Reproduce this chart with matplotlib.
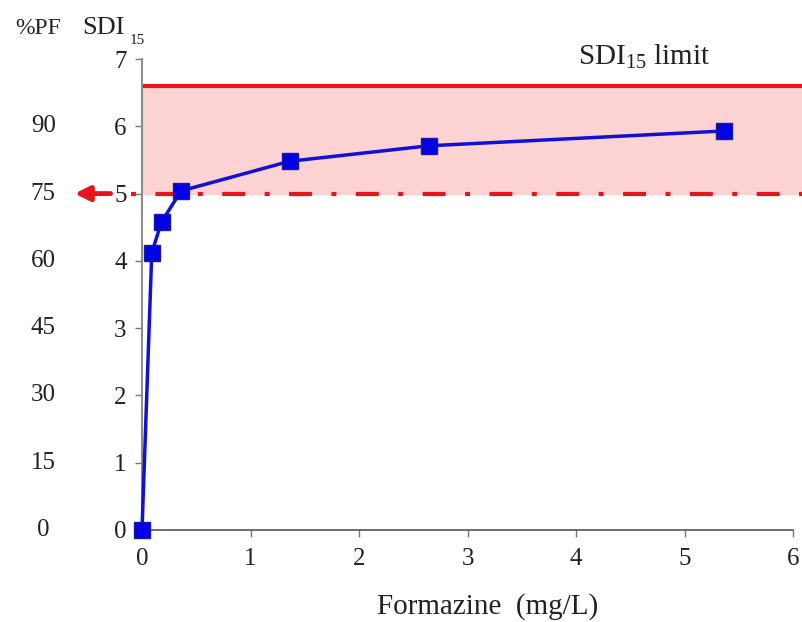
import matplotlib
matplotlib.use('Agg')
import matplotlib.pyplot as plt

plt.rcParams['font.family'] = ['Liberation Serif', 'DejaVu Serif']
plt.rcParams['mathtext.fontset'] = 'custom'
plt.rcParams['mathtext.rm'] = 'Liberation Serif'
plt.rcParams['lines.scale_dashes'] = False

# data
formazine = [0.0, 0.09, 0.18, 0.36, 1.36, 2.64, 5.36]
sdi15 = [0.0, 4.12, 4.58, 5.04, 5.48, 5.71, 5.93]
sdi_limit = 6.6
pf75_sdi = 5.0
pf_labels = [0, 15, 30, 45, 60, 75, 90]
sdi_ticks = [0, 1, 2, 3, 4, 5, 6, 7]
x_ticks = [0, 1, 2, 3, 4, 5, 6]

red = '#e8141c'
blue = '#1010d8'
txt = '#222222'

fig = plt.figure(figsize=(8.03, 6.22), dpi=100)
ax = fig.add_axes([142 / 803, 1 - 530 / 622, 661 / 803, 471 / 622])
ax.set_xlim(0, 6.09)
ax.set_ylim(0, 7)

# shaded zone between 75 %PF and the limit
ax.axhspan(pf75_sdi, sdi_limit, color='#fcd2d2', zorder=0)
ax.axhline(sdi_limit, color=red, lw=3, zorder=1)
ax.plot([-0.1, 6.09], [pf75_sdi, pf75_sdi], color=red, lw=3,
        linestyle=(0, (3.6, 14, 16.5, 14)), clip_on=False, zorder=1)
ax.annotate('', xy=(-0.62, pf75_sdi), xytext=(-0.29, pf75_sdi),
            arrowprops=dict(arrowstyle='-|>', color=red, lw=3.5,
                            mutation_scale=22, shrinkA=0, shrinkB=0),
            annotation_clip=False)

ax.plot(formazine, sdi15, color=blue, lw=2.5, marker='s', markersize=12,
        markerfacecolor='#0000e6', markeredgecolor='#1a1aa0',
        clip_on=False, zorder=3)

for s in ['top', 'right']:
    ax.spines[s].set_visible(False)
ax.spines['left'].set_color('#8c8c8c')
ax.spines['bottom'].set_color('#555555')
ax.spines['left'].set_linewidth(1.5)
ax.spines['bottom'].set_linewidth(1.2)
ax.spines['bottom'].set_bounds(0, 6)

ax.set_xticks(x_ticks)
ax.set_yticks(sdi_ticks)
ax.tick_params(axis='both', labelsize=18, length=5, width=1,
               color='#777777', labelcolor=txt)
ax.tick_params(axis='y', pad=6)
ax.tick_params(axis='x', pad=8)

# %PF scale on the far left
for pf in pf_labels:
    ax.text(-0.91, pf / 15, str(pf), ha='center', va='center',
            fontsize=18, color=txt, clip_on=False)

fig.text(15 / 803, 1 - 29 / 622, '%PF', fontsize=17, va='center', color=txt)
fig.text(82 / 803, 1 - 28 / 622, 'SDI', fontsize=19, va='center', color=txt)
fig.text(130 / 803, 1 - 40 / 622, '15', fontsize=11, va='center', color=txt)
ax.text(4.02, 7.04, r'SDI$_{15}$ limit', fontsize=21, va='center',
        color=txt, clip_on=False)

fig.text(488 / 803, 1 - 607 / 622, 'Formazine  (mg/L)', fontsize=21,
         ha='center', va='center', color=txt)

fig.savefig('out.png', dpi=100)
